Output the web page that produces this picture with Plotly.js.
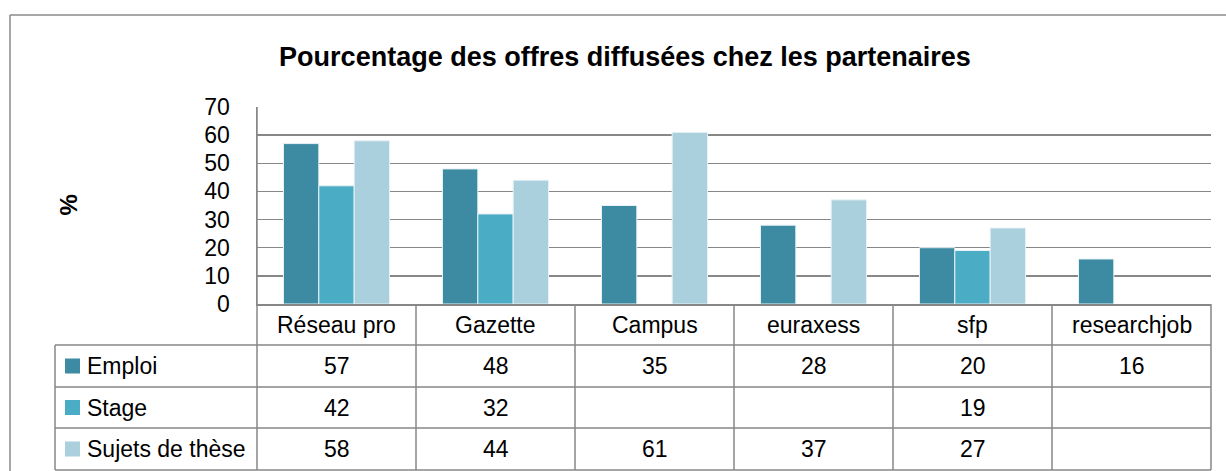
<!DOCTYPE html>
<html>
<head>
<meta charset="utf-8">
<script src="https://cdn.plot.ly/plotly-3.0.1.min.js"></script>
<style>html,body{margin:0;padding:0;background:#fff;}#chart{width:1226px;height:471px;}</style>
</head>
<body>
<div id="chart"></div>
<script>
const categories = ["Réseau pro", "Gazette", "Campus", "euraxess", "sfp", "researchjob"];
const seriesNames = ["Emploi", "Stage", "Sujets de thèse"];
const emploi = [57, 48, 35, 28, 20, 16];
const stage = [42, 32, null, null, 19, null];
const sujets = [58, 44, 61, 37, 27, null];
const colors = ["#3C8BA2", "#4BACC6", "#AACFDD"];
const yTicks = [0, 10, 20, 30, 40, 50, 60, 70];
const titleText = "Pourcentage des offres diffusées chez les partenaires";
const yTitle = "%";

const FONT = "Liberation Sans, Arial, sans-serif";
const W = 1226, H = 471;
const L = 257, R = 1211, T = 107, B = 304;
const px2x = p => (p - L) / (R - L);
const py2y = p => (B - p) / (B - T);
const GRID = "#878787";
const TXT = 23;

const series = [emploi, stage, sujets];
const traces = series.map((vals, i) => ({
  type: "bar",
  name: seriesNames[i],
  x: categories,
  y: vals,
  marker: {color: colors[i], line: {color: "#E8F2F6", width: 1}},
  hoverinfo: "x+y+name"
}));

const rowLines = [345, 387, 428, 470];
const rowCenters = [366, 407.5, 449];
const shapes = [];
// outer chart border
shapes.push({type: "line", xref: "paper", yref: "paper", x0: px2x(10), x1: px2x(10), y0: py2y(15), y1: py2y(480), line: {color: "#8a8a8a", width: 1.5}});
shapes.push({type: "line", xref: "paper", yref: "paper", x0: px2x(10), x1: px2x(1240), y0: py2y(15), y1: py2y(15), line: {color: "#8a8a8a", width: 1.5}});
// table horizontal lines
rowLines.forEach(py => shapes.push({type: "line", xref: "paper", yref: "paper", x0: px2x(55), x1: 1, y0: py2y(py), y1: py2y(py), line: {color: GRID, width: 1.5}}));
// table vertical lines
for (let k = 0; k <= categories.length; k++) {
  shapes.push({type: "line", xref: "paper", yref: "paper", x0: k / categories.length, x1: k / categories.length, y0: k === 0 ? 1 : 0, y1: py2y(470), line: {color: GRID, width: 1.5}});
}
shapes.push({type: "line", xref: "paper", yref: "paper", x0: px2x(55), x1: px2x(55), y0: py2y(345), y1: py2y(470), line: {color: GRID, width: 1.5}});
// legend swatches
rowCenters.forEach((cy, i) => shapes.push({type: "rect", xref: "paper", yref: "paper", x0: px2x(65), x1: px2x(80), y0: py2y(cy + 7.5), y1: py2y(cy - 7.5), fillcolor: colors[i], line: {width: 0}}));

const annotations = [];
annotations.push({xref: "paper", yref: "paper", x: px2x(52), xanchor: "left", y: py2y(205), text: "<b>" + yTitle + "</b>", showarrow: false, textangle: -90, font: {family: FONT, size: 24, color: "#000"}});
categories.forEach(c => annotations.push({xref: "x", yref: "paper", x: c, y: py2y(324.5), text: c, showarrow: false, yanchor: "middle", font: {family: FONT, size: TXT, color: "#000"}}));
rowCenters.forEach((cy, i) => {
  annotations.push({xref: "paper", yref: "paper", x: px2x(85), y: py2y(cy), xanchor: "left", yanchor: "middle", text: seriesNames[i], showarrow: false, font: {family: FONT, size: TXT, color: "#000"}});
  series[i].forEach((v, j) => {
    if (v !== null) annotations.push({xref: "x", yref: "paper", x: categories[j], y: py2y(cy), yanchor: "middle", text: String(v), showarrow: false, font: {family: FONT, size: TXT, color: "#000"}});
  });
});

const layout = {
  width: W, height: H,
  margin: {l: L, r: W - R, t: T, b: H - B, pad: 0},
  paper_bgcolor: "#fff", plot_bgcolor: "#fff",
  showlegend: false,
  barmode: "group", bargap: 0.333, bargroupgap: 0,
  title: {text: "<b>" + titleText + "</b>", x: 625 / W, xanchor: "center", y: 1 - 57 / H, yanchor: "middle", font: {family: FONT, size: 27, color: "#000"}},
  xaxis: {type: "category", showticklabels: false, ticks: "", showgrid: false, showline: true, linecolor: GRID, linewidth: 1.5, range: [-0.5, 5.5], fixedrange: true},
  yaxis: {range: [0, 70], tickvals: yTicks, ticktext: yTicks.map(String), showgrid: true, gridcolor: GRID, gridwidth: 1.5, zeroline: false, showline: true, linecolor: GRID, linewidth: 1.5, ticks: "", ticklabelstandoff: 21, tickfont: {family: FONT, size: 23, color: "#000"}, fixedrange: true},
  shapes: shapes,
  annotations: annotations
};

Plotly.newPlot("chart", traces, layout, {displayModeBar: false, staticPlot: true});
</script>
</body>
</html>
